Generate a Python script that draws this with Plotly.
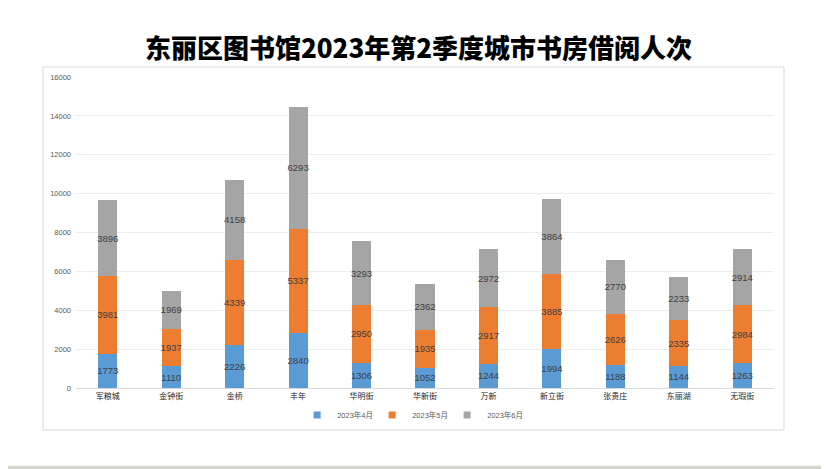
import plotly.graph_objects as go

# 各城市书房 2023年第2季度借阅人次
streets = ["军粮城", "金钟街", "金桥", "丰年", "华明街", "华新街", "万新", "新立街", "张贵庄", "东丽湖", "无瑕街"]
apr = [1773, 1110, 2226, 2840, 1306, 1052, 1244, 1994, 1188, 1144, 1263]
may = [3981, 1937, 4339, 5337, 2950, 1935, 2917, 3885, 2626, 2335, 2984]
jun = [3896, 1969, 4158, 6293, 3293, 2362, 2972, 3864, 2770, 2233, 2914]
month_names = ["2023年4月", "2023年5月", "2023年6月"]
y_ticks = [0, 2000, 4000, 6000, 8000, 10000, 12000, 14000, 16000]

colors = ["#5B9BD5", "#ED7D31", "#A5A5A5"]
font_family = "Liberation Sans, Noto Sans CJK SC, sans-serif"

fig = go.Figure()
for name, vals, c in zip(month_names, [apr, may, jun], colors):
    fig.add_trace(go.Bar(
        x=streets, y=vals, name=name, showlegend=False,
        marker=dict(color=c, line=dict(width=0)),
        text=vals, textposition="inside", insidetextanchor="middle",
        textfont=dict(size=9.5, color="#404040", family=font_family),
        textangle=0,
    ))
    # small square legend entries
    fig.add_trace(go.Scatter(
        x=[None], y=[None], mode="markers", name=name,
        marker=dict(symbol="square", size=7, color=c),
    ))

# chart frame + bottom strip
fig.add_shape(type="rect", xref="paper", yref="paper",
              x0=-0.0473, x1=1.0143, y0=-0.135, y1=1.032,
              line=dict(color="#D9D9D9", width=1), fillcolor="rgba(0,0,0,0)", layer="below")
fig.add_shape(type="rect", xref="paper", yref="paper",
              x0=-0.2, x1=1.2, y0=-0.262, y1=-0.25,
              line=dict(width=0), fillcolor="#D6D6CE", layer="below")

fig.update_layout(
    barmode="stack",
    bargap=0.7,
    width=821, height=461,
    margin=dict(l=68, r=55, t=69, b=81),
    paper_bgcolor="white", plot_bgcolor="white",
    font=dict(family=font_family, color="#404040"),
    title=dict(text="东丽区图书馆2023年第2季度城市书房借阅人次",
               x=0.5, xanchor="center", y=0.911, yanchor="middle",
               font=dict(size=26, color="black", family="Noto Sans CJK SC", weight=900)),
    legend=dict(orientation="h", x=0.478, xanchor="center", y=-0.087, yanchor="middle",
                font=dict(size=7.5, color="#595959"), itemwidth=30, entrywidth=30,
                traceorder="normal", bgcolor="rgba(0,0,0,0)"),
    uniformtext=dict(minsize=9.5, mode="show"),
    showlegend=True,
)
fig.update_xaxes(showline=True, linecolor="#D9D9D9", linewidth=1, ticks="",
                 tickfont=dict(size=8, color="#262626"), fixedrange=True)
fig.update_yaxes(range=[0, 16000], tickvals=y_ticks, tickformat="d", showgrid=True,
                 gridcolor="#EDEDED", zeroline=False, showline=False,
                 tickfont=dict(size=7.5, color="#595959"), ticklabelstandoff=4)

fig.write_html("out.html")
